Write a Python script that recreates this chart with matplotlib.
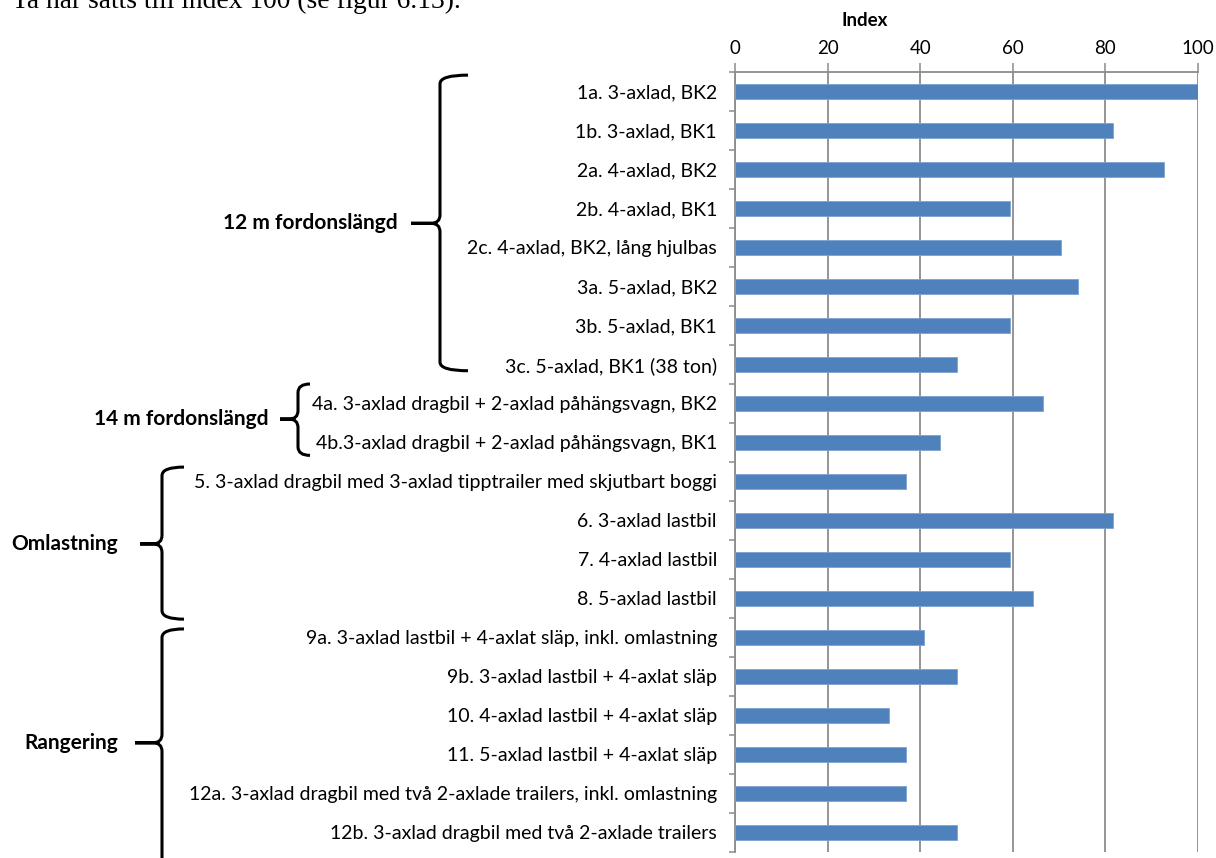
import matplotlib
matplotlib.use("Agg")
import matplotlib.pyplot as plt
import matplotlib.transforms as mtransforms
from matplotlib.path import Path
from matplotlib.patches import PathPatch
from matplotlib.ticker import MultipleLocator
import numpy as np

W, H = 1216, 858

categories = [
    "1a. 3-axlad, BK2",
    "1b. 3-axlad, BK1",
    "2a. 4-axlad, BK2",
    "2b. 4-axlad, BK1",
    "2c. 4-axlad, BK2, lång hjulbas",
    "3a. 5-axlad, BK2",
    "3b. 5-axlad, BK1",
    "3c. 5-axlad, BK1 (38 ton)",
    "4a. 3-axlad dragbil + 2-axlad påhängsvagn, BK2",
    "4b.3-axlad dragbil + 2-axlad påhängsvagn, BK1",
    "5. 3-axlad dragbil med 3-axlad tipptrailer med skjutbart boggi",
    "6. 3-axlad lastbil",
    "7. 4-axlad lastbil",
    "8. 5-axlad lastbil",
    "9a. 3-axlad lastbil + 4-axlat släp, inkl. omlastning",
    "9b. 3-axlad lastbil + 4-axlat släp",
    "10. 4-axlad lastbil + 4-axlat släp",
    "11. 5-axlad lastbil + 4-axlat släp",
    "12a. 3-axlad dragbil med två 2-axlade trailers, inkl. omlastning",
    "12b. 3-axlad dragbil med två 2-axlade trailers",
]
index_values = [100.0, 81.6, 92.7, 59.4, 70.4, 74.1, 59.4, 47.9, 66.5, 44.3,
                36.9, 81.6, 59.4, 64.4, 40.9, 48.0, 33.3, 36.9, 36.9, 48.0]

# group name, brace top / middle / bottom (in rows), brace x positions (px)
group_names = ["12 m fordonslängd", "14 m fordonslängd", "Omlastning", "Rangering"]
brace_rows = [(-0.42, 3.38, 7.16), (7.5, 8.4, 9.33), (9.63, 11.6, 13.53), (13.78, 16.7, 20.6)]
brace_x = [(440, 468, 411, 398), (298, 310, 280, 269), (162, 184, 140, 118), (162, 184, 135, 118)]

bar_color = "#4f81bd"
grid_color = "#8c8c8c"
font = "Lato"

fig = plt.figure(figsize=(W / 100, H / 100), dpi=100)
ax = fig.add_axes([735 / W, 1 - 852 / H, (1198 - 735) / W, (852 - 72) / H])

y = np.arange(len(categories))
ax.barh(y, index_values, height=0.38, color=bar_color, edgecolor="#7da2d1",
        linewidth=0.6, zorder=3)

ax.set_xlim(0, 100)
ax.set_ylim(len(categories) - 0.5, -0.5)
ax.xaxis.tick_top()
ax.set_xticks(np.arange(0, 101, 20))
ax.tick_params(axis="x", which="major", length=6.5, width=1.1, color=grid_color,
               direction="out", pad=4, labelsize=13.5)
for lab in ax.get_xticklabels():
    lab.set_fontfamily(font)

ax.set_yticks(y)
ax.set_yticklabels(categories, fontfamily=font, fontsize=14.0)
ax.yaxis.set_minor_locator(MultipleLocator(1, offset=0.5))
ax.tick_params(axis="y", which="major", length=0, pad=13)
ax.tick_params(axis="y", which="minor", length=4.5, width=1.1, color=grid_color,
               direction="out")

ax.grid(axis="x", color=grid_color, linewidth=1.3, zorder=0)
ax.set_axisbelow(True)
for side in ("right", "bottom"):
    ax.spines[side].set_visible(False)
for side in ("left", "top"):
    ax.spines[side].set_color(grid_color)
    ax.spines[side].set_linewidth(1.3)

fig.text(865 / W, 1 - 20 / H, "Index", ha="center", va="center",
         fontfamily=font, fontweight="bold", fontsize=13.5)

# running text above the chart, only its lower part is in view
fig.text(12 / W, 1 - 8 / H, "Ta har satts till index 100 (se figur 6.13).",
         ha="left", va="baseline", fontfamily="Liberation Serif", fontsize=19.8)

# x in figure pixels, y in data rows
px = mtransforms.Affine2D().scale(1.0 / W, 1.0) + fig.transFigure
trans = mtransforms.blended_transform_factory(px, ax.transData)


def brace(top, mid, bot, xv, xh, xt):
    r = 0.22
    k = 9
    verts = [(xh, top), (xv, top), (xv, top + r),
             (xv, mid - r), (xv, mid), (xv - k, mid), (xt, mid),
             (xt, mid), (xv - k, mid), (xv, mid), (xv, mid + r),
             (xv, bot - r), (xv, bot), (xh, bot)]
    codes = [Path.MOVETO, Path.CURVE3, Path.CURVE3,
             Path.LINETO, Path.CURVE3, Path.CURVE3, Path.LINETO,
             Path.MOVETO, Path.LINETO, Path.CURVE3, Path.CURVE3,
             Path.LINETO, Path.CURVE3, Path.CURVE3]
    patch = PathPatch(Path(verts, codes), facecolor="none", edgecolor="black",
                      linewidth=2.2, transform=trans, clip_on=False)
    fig.add_artist(patch)


for name, (top, mid, bot), (xv, xh, xt, xl) in zip(group_names, brace_rows, brace_x):
    brace(top, mid, bot, xv, xh, xt)
    fig.text(xl, mid, name, transform=trans, ha="right", va="center",
             fontfamily=font, fontweight="bold", fontsize=15)

fig.savefig("out.png", dpi=100)
